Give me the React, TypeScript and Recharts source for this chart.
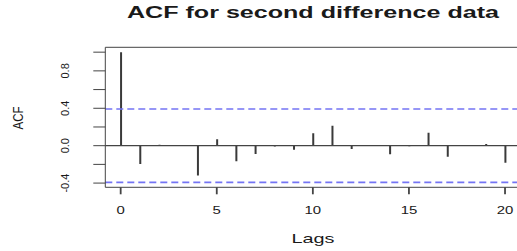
import React from 'react';
import { ComposedChart, Bar, XAxis, YAxis, ReferenceLine } from 'recharts';

// sample autocorrelation of the twice-differenced series, lags 0..20
const LAGS = [0, 1, 2, 3, 4, 5, 6, 7, 8, 9, 10, 11, 12, 13, 14, 15, 16, 17, 18, 19, 20];
const ACF_VALUES = [
  1.0, -0.196, 0.01, 0.0, -0.32, 0.07, -0.167, -0.089, -0.01, -0.043, 0.133,
  0.214, -0.035, 0.005, -0.092, -0.005, 0.139, -0.117, 0.0, 0.018, -0.182,
];
const X_TICKS = [0, 5, 10, 15, 20];
const Y_TICKS = [-0.4, -0.2, 0, 0.2, 0.4, 0.6, 0.8, 1.0];
const Y_LABELS = [-0.4, 0, 0.4, 0.8];
const CONF_BOUND = 0.392; // 1.96 / sqrt(n)
const X_DOMAIN = [-0.8, 20.8];
const Y_DOMAIN = [-0.445, 1.052];

const data = LAGS.map((lag, i) => ({ lag, acf: ACF_VALUES[i] }));

const FONT = '"Liberation Sans", Arial, sans-serif';
const INK = '#1a1a1a';
const LINE = '#444';

const XTick = (props: any) => {
  const { x, y, payload } = props;
  return (
    <g transform={`translate(${x},${y + 17.5}) scale(1.3,1)`}>
      <text textAnchor="middle" fontSize={11.5} fill={INK} fontFamily={FONT}>
        {payload.value}
      </text>
    </g>
  );
};

const YTick = (props: any) => {
  const { x, y, payload } = props;
  const show = Y_LABELS.some(v => Math.abs(v - payload.value) < 1e-6);
  if (!show) return <g />;
  return (
    <text
      transform={`translate(${x - 22},${y}) rotate(-90)`}
      textAnchor="middle"
      fontSize={11}
      fill={INK}
      fontFamily={FONT}
    >
      {Number(payload.value).toFixed(1)}
    </text>
  );
};

export default function App() {
  return (
    <div
      style={{
        position: 'fixed',
        left: 0,
        top: 0,
        width: 517,
        height: 251,
        overflow: 'hidden',
        background: '#fff',
      }}
    >
      <svg width={517} height={30} style={{ position: 'absolute', left: 0, top: 0 }}>
        <text
          x={313}
          y={18.3}
          textAnchor="middle"
          fontSize={16}
          fontWeight="bold"
          fill={INK}
          fontFamily={FONT}
          textLength={372}
          lengthAdjust="spacingAndGlyphs"
        >
          ACF for second difference data
        </text>
      </svg>
      <ComposedChart
        width={540}
        height={251}
        data={data}
        margin={{ top: 47.3, right: 19.6, bottom: 0, left: 0 }}
        style={{ position: 'absolute', left: 0, top: 0 }}
      >
        <XAxis
          type="number"
          dataKey="lag"
          domain={X_DOMAIN}
          allowDataOverflow
          ticks={X_TICKS}
          interval={0}
          height={63.7}
          tickSize={7}
          tickLine={{ stroke: LINE, strokeWidth: 1.8 }}
          axisLine={{ stroke: LINE, strokeWidth: 1 }}
          tick={<XTick />}
          label={{
            content: () => (
              <text
                x={313}
                y={243.3}
                textAnchor="middle"
                fontSize={13.5}
                fill={INK}
                fontFamily={FONT}
                textLength={43}
                lengthAdjust="spacingAndGlyphs"
              >
                Lags
              </text>
            ),
          }}
        />
        <YAxis
          type="number"
          domain={Y_DOMAIN}
          allowDataOverflow
          ticks={Y_TICKS}
          interval={0}
          width={105.3}
          tickSize={12}
          tickLine={{ stroke: LINE, strokeWidth: 1 }}
          axisLine={{ stroke: LINE, strokeWidth: 1 }}
          tick={<YTick />}
          label={{
            content: () => (
              <g transform="translate(23,118) scale(1.3,1) rotate(-90)">
                <text textAnchor="middle" fontSize={11.5} fill={INK} fontFamily={FONT}>
                  ACF
                </text>
              </g>
            ),
          }}
        />
        <ReferenceLine y={Y_DOMAIN[1]} stroke={LINE} strokeWidth={1} />
        <ReferenceLine y={0} stroke={LINE} strokeWidth={1.2} />
        <ReferenceLine y={CONF_BOUND} stroke="#7474f4" strokeWidth={1.6} strokeDasharray="7 4" />
        <ReferenceLine y={-CONF_BOUND} stroke="#7474f4" strokeWidth={1.6} strokeDasharray="7 4" />
        <Bar dataKey="acf" fill="#3a3a3a" barSize={2} isAnimationActive={false} />
      </ComposedChart>
    </div>
  );
}
